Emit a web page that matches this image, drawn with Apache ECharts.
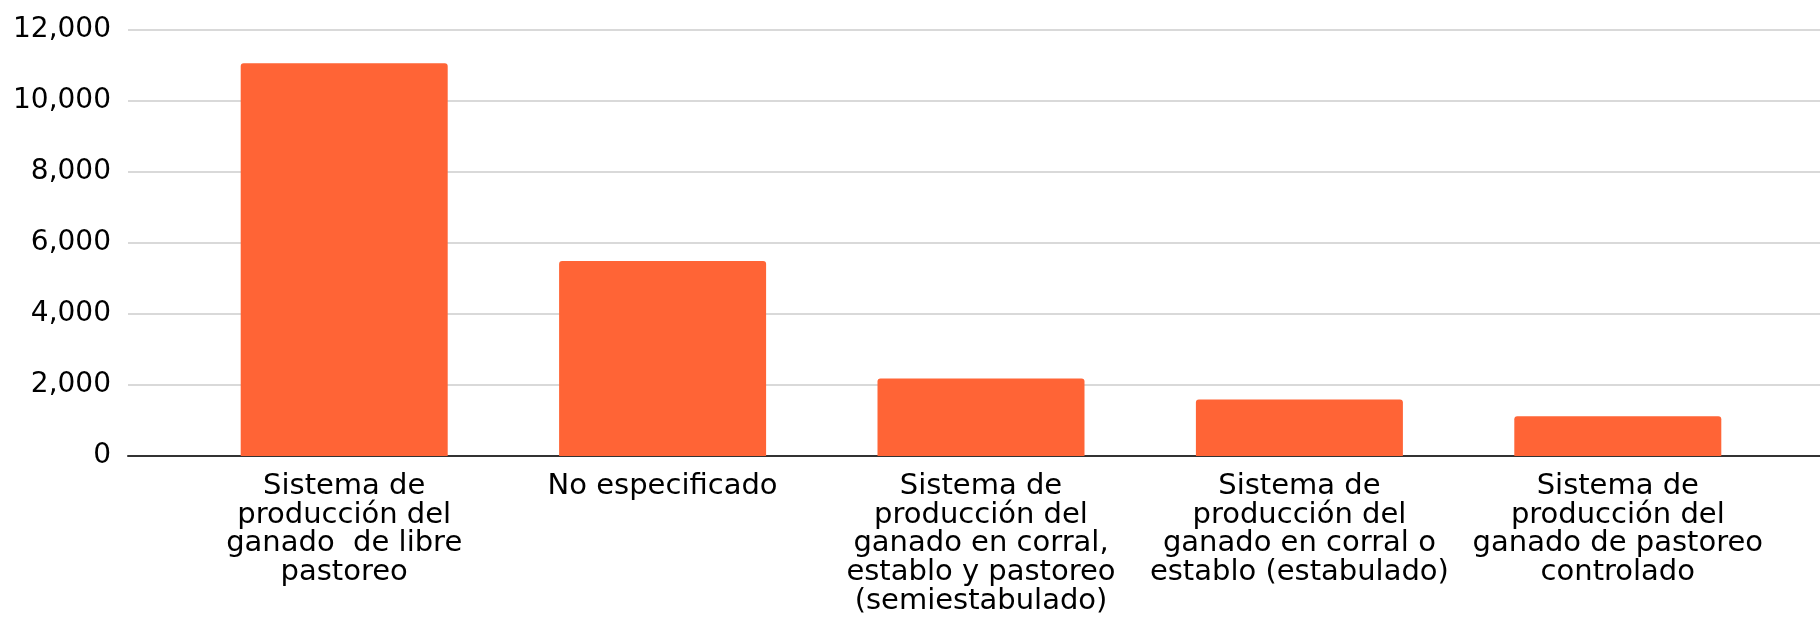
<!DOCTYPE html>
<html>
<head>
<meta charset="utf-8">
<script src="https://cdn.jsdelivr.net/npm/echarts@6/dist/echarts.min.js"></script>
<style>
html, body { margin: 0; padding: 0; background: #fff; }
#chart { width: 1820px; height: 617px; }
</style>
</head>
<body>
<div id="chart"></div>
<script>
var categories = [
    'Sistema de\nproducción del\nganado  de libre\npastoreo',
    'No especificado',
    'Sistema de\nproducción del\nganado en corral,\nestablo y pastoreo\n(semiestabulado)',
    'Sistema de\nproducción del\nganado en corral o\nestablo (estabulado)',
    'Sistema de\nproducción del\nganado de pastoreo\ncontrolado'
];
var values = [11050, 5490, 2180, 1590, 1120];
var yTicks = { min: 0, max: 12000, interval: 2000 };

var dom = document.getElementById('chart');
var myChart = echarts.init(dom);
var font = 'DejaVu Sans';

var option = {
    animation: false,
    grid: [
        { left: 128, right: 0, top: 29.5, bottom: 161 },
        { left: 185, right: 43, top: 29.5, bottom: 161 }
    ],
    xAxis: [
        {
            gridIndex: 0, type: 'value', min: 0, max: 1,
            axisLine: { show: true, lineStyle: { color: '#333', width: 2 } },
            axisTick: { show: false }, axisLabel: { show: false }, splitLine: { show: false }
        },
        {
            gridIndex: 1, type: 'category', data: categories,
            axisLine: { show: false }, axisTick: { show: false },
            axisLabel: {
                interval: 0, color: '#000', fontFamily: font, fontSize: 29,
                lineHeight: 28.7, margin: 16, align: 'center'
            }
        }
    ],
    yAxis: [
        {
            gridIndex: 0, type: 'value', min: yTicks.min, max: yTicks.max, interval: yTicks.interval,
            axisLine: { show: false }, axisTick: { show: false },
            axisLabel: {
                color: '#000', fontFamily: font, fontSize: 28, margin: 17,
                formatter: function (v) { return v.toLocaleString('en-US'); }
            },
            splitLine: { lineStyle: { color: '#ccc', width: 1.5 } }
        },
        {
            gridIndex: 1, type: 'value', min: yTicks.min, max: yTicks.max, interval: yTicks.interval,
            show: false
        }
    ],
    series: [
        {
            type: 'bar', xAxisIndex: 1, yAxisIndex: 1,
            data: values, barWidth: 207,
            itemStyle: { color: '#ff6436', borderRadius: [3, 3, 0, 0] }
        }
    ]
};
myChart.setOption(option, true);
</script>
</body>
</html>
